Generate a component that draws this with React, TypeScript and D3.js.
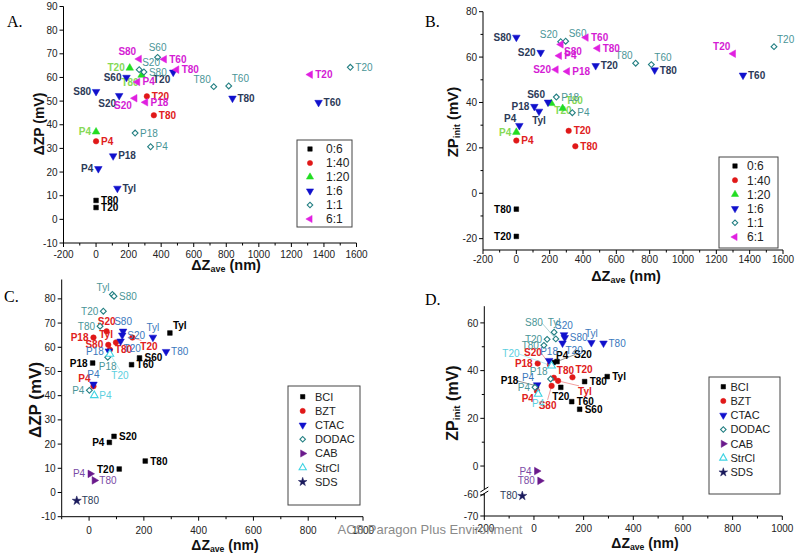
import React from "react";
import * as d3 from "d3";

type Pt = [string, number, number, string];

// ---------- legend names ----------
const ratioNames = ["0:6", "1:40", "1:20", "1:6", "1:1", "6:1"];
const surfNames = ["BCI", "BZT", "CTAC", "DODAC", "CAB", "StrCl", "SDS"];

// ---------- Panel A: ΔZP vs ΔZave (by ratio) ----------
const aR06: Pt[] = [["T80", 0, 8, "r"], ["T20", 0, 5, "r"]];
const aR140: Pt[] = [["P4", 0, 33, "r"], ["T20", 312, 52, "r"], ["T80", 355, 44, "r"]];
const aR120: Pt[] = [["P4", 0, 37, "l"], ["T20", 207, 64, "l"], ["T80", 280, 61, "bl"]];
const aR16: Pt[] = [
  ["S80", 0, 54, "l"], ["S60", 187, 60, "l"], ["S20", 142, 52.3, "bl"], ["T20", 474, 62.2, "bl"],
  ["T80", 838, 51.2, "r"], ["T60", 1367, 49.4, "r"], ["P18", 105, 26.8, "r"], ["P4", 14, 21.4, "l"],
  ["Tyl", 131, 13.1, "r"],
];
const aR11: Pt[] = [
  ["S60", 378, 68.5, "t"], ["S20", 265, 63.3, "tr"], ["S80", 294, 62.3, "r"], ["T80", 723, 56.1, "tl"],
  ["T60", 815, 56.4, "tr"], ["T20", 1562, 64.3, "r"], ["P18", 240, 36.5, "r"], ["P4", 335, 30.7, "r"],
];
const aR61: Pt[] = [
  ["S80", 265, 67.8, "tl"], ["T60", 419, 67.7, "r"], ["T80", 495, 63.3, "r"], ["P4", 255, 58.1, "r"],
  ["S20", 238, 51.2, "bl"], ["P18", 304, 49.5, "r"], ["T20", 1316, 61.2, "r"],
];

// ---------- Panel B: ZPinit vs ΔZave (by ratio) ----------
const bR06: Pt[] = [["T80", 0, -7, "l"], ["T20", 0, -19, "l"]];
const bR140: Pt[] = [["P4", 0, 23.2, "r"], ["T20", 314, 27.5, "r"], ["T80", 354, 20.7, "r"]];
const bR120: Pt[] = [["P4", 0, 26.9, "l"], ["T20", 210, 39.6, "br"], ["T80", 278, 37.4, "tr"]];
const bR16: Pt[] = [
  ["S80", 0, 68.7, "l"], ["S20", 146, 62, "l"], ["T20", 476, 56.2, "r"], ["T80", 830, 54.3, "r"],
  ["T60", 1360, 52, "r"], ["P18", 108, 38.2, "l"], ["Tyl", 136, 36.1, "b"], ["S60", 190, 40.1, "tl"],
  ["P4", 18, 29.8, "tl"],
];
const bR11: Pt[] = [
  ["S20", 266, 66.8, "tl"], ["S60", 296, 67, "tr"], ["T80", 716, 57.3, "tl"], ["T60", 810, 56.7, "tr"],
  ["T20", 1546, 64.6, "tr"], ["P18", 240, 42.4, "r"], ["P4", 336, 35.5, "r"],
];
const bR61: Pt[] = [
  ["T60", 418, 68.6, "r"], ["S80", 268, 65.6, "br"], ["T80", 488, 63.9, "r"], ["P4", 258, 60.6, "r"],
  ["S20", 238, 54.5, "l"], ["P18", 306, 53.7, "r"], ["T20", 1302, 61.5, "tl"],
];

// ---------- Panel C: ΔZP vs ΔZave (by surfactant) ----------
const cBCI: Pt[] = [
  ["Tyl", 295, 65.9, "tr"], ["S60", 184, 55.6, "r"], ["T60", 155, 52.8, "r"], ["P18", 13, 53.5, "l"],
  ["S20", 91, 23.2, "r"], ["P4", 74, 20.7, "l"], ["T80", 205, 13, "r"], ["T20", 110, 9.7, "l"],
];
const cBZT: Pt[] = [
  ["S20", 64, 66.6, "t"], ["P18", 16, 64, "l"], ["Tyl", 98, 62, "tl"], ["S80", 70, 61, "l"],
  ["T20", 158, 64, "Lbr2"], ["T80", 76, 59, "r"], ["P4", 16, 43.9, "tl"],
];
const cCTAC: Pt[] = [
  ["S80", 124, 66.6, "t"], ["S20", 121, 65, "r"], ["T20", 115, 62.5, "br"], ["Tyl", 233, 64.1, "t"],
  ["T80", 281, 58.2, "r"], ["P4", 16, 44.7, "t"], ["P18", 72, 58.4, "l"],
];
const cDODAC: Pt[] = [
  ["Tyl", 85, 81.8, "tl"], ["S80", 91, 81.1, "r"], ["T20", 52, 74.9, "l"], ["T80", 40, 68.7, "l"],
  ["P18", 68, 55.9, "b"], ["P4", 1, 42.2, "l"],
];
const cCAB: Pt[] = [["P4", 4, 7.7, "l"], ["T80", 19, 5, "r"]];
const cStrCl: Pt[] = [["T20", 76, 57.2, "bb"], ["P4", 19, 40.1, "r"]];
const cSDS: Pt[] = [["T80", -45, -3.4, "r"]];

// ---------- Panel D: ZPinit vs ΔZave (by surfactant) ----------
const dBCI: Pt[] = [
  ["Tyl", 295, 37.5, "r"], ["T80", 204, 35.4, "r"], ["T20", 108, 33, "b"], ["T60", 152, 27, "r"],
  ["S60", 184, 23.8, "r"], ["P4", 77, 43.4, "tr"], ["S20", 93, 43.8, "Ltr"], ["P18", 10, 33.6, "Ll"],
];
const dBZT: Pt[] = [
  ["P18", 15, 43, "l"], ["S20", 64, 42.5, "Ltl"], ["T80", 80, 37, "tr"], ["Tyl", 97, 35.7, "Lbr"],
  ["S80", 71, 33.6, "Lb"], ["T20", 155, 37.2, "tr"], ["P4", 12, 31.5, "bl"],
];
const dCTAC: Pt[] = [
  ["S20", 121, 55, "t"], ["S80", 124, 53.8, "r"], ["T20", 115, 51.5, "br"], ["Tyl", 231, 51.7, "t"],
  ["T80", 280, 51.5, "r"], ["P18", 61, 44.2, "t"], ["P4", 13, 34, "tl"],
];
const dDODAC: Pt[] = [
  ["Tyl", 81, 56.1, "t"], ["S80", 88, 53.3, "Ltl2"], ["T20", 53, 53.1, "l"], ["T80", 40, 50.6, "l"],
  ["P18", 67, 36.5, "tl"], ["P4", 4, 33, "l"],
];
const dCAB: Pt[] = [["P4", 11, -2.1, "l"], ["T80", 24, -6.2, "l"]];
const dStrCl: Pt[] = [["T20", 71, 42, "Lfl"], ["P4", 17, 30.2, "b"]];
const dSDS: Pt[] = [["T80", -47, -60.5, "l"]];

// ---------- axis ticks ----------
const abXTicks = [-200, 0, 200, 400, 600, 800, 1000, 1200, 1400, 1600];
const aYTicks = [-10, 0, 10, 20, 30, 40, 50, 60, 70, 80, 90];
const bYTicks = [-20, 0, 20, 40, 60, 80];
const cXTicks = [0, 200, 400, 600, 800, 1000];
const cYTicks = [-10, 0, 10, 20, 30, 40, 50, 60, 70, 80];
const dXTicks = [-200, 0, 200, 400, 600, 800, 1000];
const dYTicks = [-70, -60, 0, 20, 40, 60];

// ---------- styles ----------
type Style = { shape: string; color: string; fill: string; label: string; weight: number };
const ratioStyles: Style[] = [
  { shape: "square", color: "#000", fill: "#000", label: "#000", weight: 700 },
  { shape: "circle", color: "#e01818", fill: "#e01818", label: "#e02020", weight: 700 },
  { shape: "up", color: "#22dd22", fill: "#22dd22", label: "#86d956", weight: 700 },
  { shape: "down", color: "#1010cc", fill: "#1010cc", label: "#2c3a58", weight: 700 },
  { shape: "diamond", color: "#237f82", fill: "#fff", label: "#4a9597", weight: 400 },
  { shape: "left", color: "#e020e0", fill: "#e020e0", label: "#d41cd4", weight: 700 },
];
const surfStyles: Style[] = [
  { shape: "square", color: "#000", fill: "#000", label: "#000", weight: 700 },
  { shape: "circle", color: "#e01818", fill: "#e01818", label: "#e02020", weight: 700 },
  { shape: "down", color: "#1010cc", fill: "#1010cc", label: "#3a78bd", weight: 400 },
  { shape: "diamond", color: "#237f82", fill: "#fff", label: "#4a9597", weight: 400 },
  { shape: "right", color: "#6a1a8c", fill: "#6a1a8c", label: "#7a4aa6", weight: 400 },
  { shape: "openup", color: "#3fd3e3", fill: "#fff", label: "#5ccfe0", weight: 400 },
  { shape: "star", color: "#1a1a5c", fill: "#1a1a5c", label: "#2c3a58", weight: 400 },
];

// label anchor offsets: dx, dy, text-anchor, leader line
const ANCH: Record<string, [number, number, string, boolean]> = {
  r: [5, 3.5, "start", false],
  l: [-5, 3.5, "end", false],
  t: [0, -6, "middle", false],
  b: [0, 13, "middle", false],
  tr: [3, -4, "start", false],
  tl: [-3, -4, "end", false],
  br: [3, 11, "start", false],
  bl: [-3, 11, "end", false],
  bb: [10, 25, "middle", true],
  Ltr: [17, -4, "start", true],
  Ll: [-18, -2, "end", true],
  Ltl: [-8, -9, "end", true],
  Ltl2: [-13, -13, "end", true],
  Lbr: [20, 14, "start", true],
  Lbr2: [8, 12, "start", true],
  Lb: [-4, 23, "middle", true],
  Lfl: [-32, -9, "end", true],
};

const SANS = "'Liberation Sans', Arial, Helvetica, sans-serif";
const SERIF = "'Liberation Serif', 'Times New Roman', serif";

function Marker({ shape, color, fill, x, y, s = 1 }: any) {
  let type: any = d3.symbolSquare;
  let size = 22;
  let rot = 0;
  if (shape === "circle") { type = d3.symbolCircle; size = 24; }
  else if (shape === "up" || shape === "openup") { type = d3.symbolTriangle; size = 25; }
  else if (shape === "down") { type = d3.symbolTriangle; size = 25; rot = 180; }
  else if (shape === "left") { type = d3.symbolTriangle; size = 25; rot = -90; }
  else if (shape === "right") { type = d3.symbolTriangle; size = 25; rot = 90; }
  else if (shape === "diamond") { type = d3.symbolSquare; size = 17; rot = 45; }
  else if (shape === "star") { type = d3.symbolStar; size = 26; }
  const path = d3.symbol(type, size * s)() as string;
  return (
    <path
      d={path}
      transform={`translate(${x},${y}) rotate(${rot})`}
      fill={fill}
      stroke={color}
      strokeWidth={fill === "#fff" ? 1.1 : 0.5}
    />
  );
}

function Panel(p: any) {
  const { x, y, xDom, yTop, yBot, xTicks, xMinor, yTicks, yMinor, xLabelY, series, styles, names, legend,
    xTitle, yTitle, letter, labelFs, tickFs, yBreak } = p;
  const x0 = x(xDom[0]);
  const x1 = x(xDom[1]);
  return (
    <g>
      <text x={letter.x} y={letter.y} fontFamily={SERIF} fontSize={16}>{letter.t}</text>
      {/* axes */}
      <line x1={x0} x2={x1} y1={yBot} y2={yBot} stroke="#000" strokeWidth={1} />
      {yBreak ? (
        <g>
          <line x1={x0} x2={x0} y1={yBot} y2={yBreak + 3} stroke="#000" />
          <line x1={x0} x2={x0} y1={yBreak - 1} y2={yTop} stroke="#000" />
          <line x1={x0 - 4} x2={x0 + 4} y1={yBreak + 2} y2={yBreak - 3} stroke="#000" />
          <line x1={x0 - 4} x2={x0 + 4} y1={yBreak + 6} y2={yBreak + 1} stroke="#000" />
        </g>
      ) : (
        <line x1={x0} x2={x0} y1={yBot} y2={yTop} stroke="#000" strokeWidth={1} />
      )}
      {xTicks.map((t: number) => (
        <g key={"xt" + t}>
          <line x1={x(t)} x2={x(t)} y1={yBot} y2={yBot + 4} stroke="#000" />
          <text x={x(t)} y={xLabelY} textAnchor="middle" fontFamily={SANS} fontSize={tickFs} fill="#222">{t}</text>
        </g>
      ))}
      {xMinor.map((t: number) => (
        <line key={"xm" + t} x1={x(t)} x2={x(t)} y1={yBot} y2={yBot + 2.5} stroke="#000" />
      ))}
      {yTicks.map((t: number) => (
        <g key={"yt" + t}>
          <line x1={x0 - 4} x2={x0} y1={y(t)} y2={y(t)} stroke="#000" />
          <text x={x0 - 6} y={y(t) + tickFs * 0.36} textAnchor="end" fontFamily={SANS} fontSize={tickFs} fill="#222">{t}</text>
        </g>
      ))}
      {yMinor.map((t: number) => (
        <line key={"ym" + t} x1={x0 - 2.5} x2={x0} y1={y(t)} y2={y(t)} stroke="#000" />
      ))}
      {/* titles */}
      <text x={xTitle.x} y={xTitle.y} textAnchor="middle" fontFamily={SANS} fontWeight={700} fontSize={xTitle.fs} fill="#111">
        ΔZ<tspan fontSize={xTitle.fs * 0.62} dy={2}>ave</tspan><tspan dy={-2}> (nm)</tspan>
      </text>
      <g transform={`translate(${yTitle.x},${yTitle.y}) rotate(-90)`}>
        {yTitle.kind === "dzp" ? (
          <text textAnchor="middle" fontFamily={SANS} fontWeight={700} fontSize={yTitle.fs} fill="#111">ΔZP (mV)</text>
        ) : (
          <text textAnchor="middle" fontFamily={SANS} fontWeight={700} fontSize={yTitle.fs} fill="#111">
            ZP<tspan fontSize={yTitle.fs * 0.62} dy={2}>init</tspan><tspan dy={-2}> (mV)</tspan>
          </text>
        )}
      </g>
      {/* points */}
      {series.map((pts: Pt[], si: number) => {
        const st = styles[si];
        return (
          <g key={"s" + si}>
            {pts.map((d, i) => {
              const px = x(d[1]);
              const py = y(d[2]);
              const a = ANCH[d[3]] || ANCH.r;
              const lx = px + a[0];
              const ly = py + a[1];
              return (
                <g key={i}>
                  {a[3] && (
                    <line x1={px} y1={py} x2={lx + (a[2] === "end" ? -1 : a[2] === "start" ? 1 : 0)} y2={ly - (a[1] > 0 ? 9 : 3)}
                      stroke={st.label} strokeOpacity={0.55} strokeWidth={0.8} />
                  )}
                  <Marker shape={st.shape} color={st.color} fill={st.fill} x={px} y={py} />
                  <text x={lx} y={ly} textAnchor={a[2]} fontFamily={SANS} fontSize={labelFs}
                    fontWeight={st.weight} fill={st.label}>{d[0]}</text>
                </g>
              );
            })}
          </g>
        );
      })}
      {/* legend */}
      <rect x={legend.x0} y={legend.y0} width={legend.x1 - legend.x0} height={legend.y1 - legend.y0}
        fill="#fff" stroke="#444" strokeWidth={1} />
      {names.map((n: string, i: number) => {
        const st = styles[i];
        const ly = legend.first + i * legend.step;
        return (
          <g key={n}>
            <Marker shape={st.shape} color={st.color} fill={st.fill} x={legend.mx} y={ly} s={0.9} />
            <text x={legend.tx} y={ly + legend.fs * 0.36} fontFamily={SANS} fontSize={legend.fs} fill="#222">{n}</text>
          </g>
        );
      })}
    </g>
  );
}

export default function App() {
  const xA = d3.scaleLinear().domain([-200, 1600]).range([63.5, 356.5]);
  const yA = d3.scaleLinear().domain([-10, 90]).range([243, 6.5]);
  const xB = d3.scaleLinear().domain([-200, 1600]).range([483, 783]);
  const yB = d3.scaleLinear().domain([-25, 80]).range([250, 11.7]);
  const xC = d3.scaleLinear().domain([-100, 1000]).range([61.7, 363]);
  const yC = d3.scaleLinear().domain([-10, 88]).range([516.7, 279.5]);
  const xD = d3.scaleLinear().domain([-200, 1000]).range([484.3, 782.3]);
  const yD = d3.scaleLinear().domain([-70, -58, -10, 67]).range([516, 490.6, 489.9, 306.2]);

  return (
    <svg width={800} height={559} style={{ position: "absolute", left: 0, top: 0, background: "#fff" }}>
      <rect width={800} height={559} fill="#fff" />
      <Panel
        x={xA} y={yA} xDom={[-200, 1600]} yTop={yA(90)} yBot={yA(-10)}
        xTicks={abXTicks} xMinor={d3.range(-100, 1600, 200)} yTicks={aYTicks} yMinor={[]}
        xLabelY={257.5} tickFs={10} labelFs={10}
        series={[aR06, aR140, aR120, aR16, aR11, aR61]} styles={ratioStyles} names={ratioNames}
        legend={{ x0: 297, y0: 140, x1: 352, y1: 227, first: 149, step: 14, mx: 310, tx: 326, fs: 12 }}
        xTitle={{ x: 226, y: 270, fs: 14.5 }} yTitle={{ x: 44, y: 124, fs: 14, kind: "dzp" }}
        letter={{ t: "A.", x: 7, y: 27 }}
      />
      <Panel
        x={xB} y={yB} xDom={[-200, 1600]} yTop={yB(80)} yBot={yB(-25)}
        xTicks={abXTicks} xMinor={d3.range(-100, 1600, 200)} yTicks={bYTicks} yMinor={d3.range(-10, 80, 20)}
        xLabelY={262.5} tickFs={10} labelFs={10}
        series={[bR06, bR140, bR120, bR16, bR11, bR61]} styles={ratioStyles} names={ratioNames}
        legend={{ x0: 719, y0: 157, x1: 778, y1: 248, first: 166, step: 14.2, mx: 735, tx: 747, fs: 12 }}
        xTitle={{ x: 626, y: 281, fs: 14.5 }} yTitle={{ x: 458, y: 122, fs: 15, kind: "zpi" }}
        letter={{ t: "B.", x: 425, y: 27 }}
      />
      <Panel
        x={xC} y={yC} xDom={[-100, 1000]} yTop={279.5} yBot={yC(-10)}
        xTicks={cXTicks} xMinor={d3.range(-100, 1000, 100).filter((v) => v % 200 !== 0)} yTicks={cYTicks} yMinor={[]}
        xLabelY={534} tickFs={10} labelFs={10}
        series={[cBCI, cBZT, cCTAC, cDODAC, cCAB, cStrCl, cSDS]} styles={surfStyles} names={surfNames}
        legend={{ x0: 288, y0: 386, x1: 360, y1: 505, first: 396.7, step: 14.2, mx: 302.7, tx: 315, fs: 11 }}
        xTitle={{ x: 225, y: 550, fs: 14 }} yTitle={{ x: 41, y: 400, fs: 17, kind: "dzp" }}
        letter={{ t: "C.", x: 4, y: 302 }}
      />
      <Panel
        x={xD} y={yD} xDom={[-200, 1000]} yTop={306.2} yBot={516}
        xTicks={dXTicks} xMinor={d3.range(-100, 1000, 200)} yTicks={dYTicks} yMinor={[10, 30, 50]}
        xLabelY={532} tickFs={10} labelFs={10} yBreak={490}
        series={[dBCI, dBZT, dCTAC, dDODAC, dCAB, dStrCl, dSDS]} styles={surfStyles} names={surfNames}
        legend={{ x0: 709, y0: 377, x1: 780, y1: 494, first: 386.7, step: 14.27, mx: 723.3, tx: 730.5, fs: 11 }}
        xTitle={{ x: 645, y: 548, fs: 14 }} yTitle={{ x: 458, y: 403, fs: 16, kind: "zpi" }}
        letter={{ t: "D.", x: 425, y: 305 }}
      />
      <text x={430} y={534} textAnchor="middle" fontFamily={SANS} fontSize={13} fill="#8a8a8a">
        ACS Paragon Plus Environment
      </text>
    </svg>
  );
}
